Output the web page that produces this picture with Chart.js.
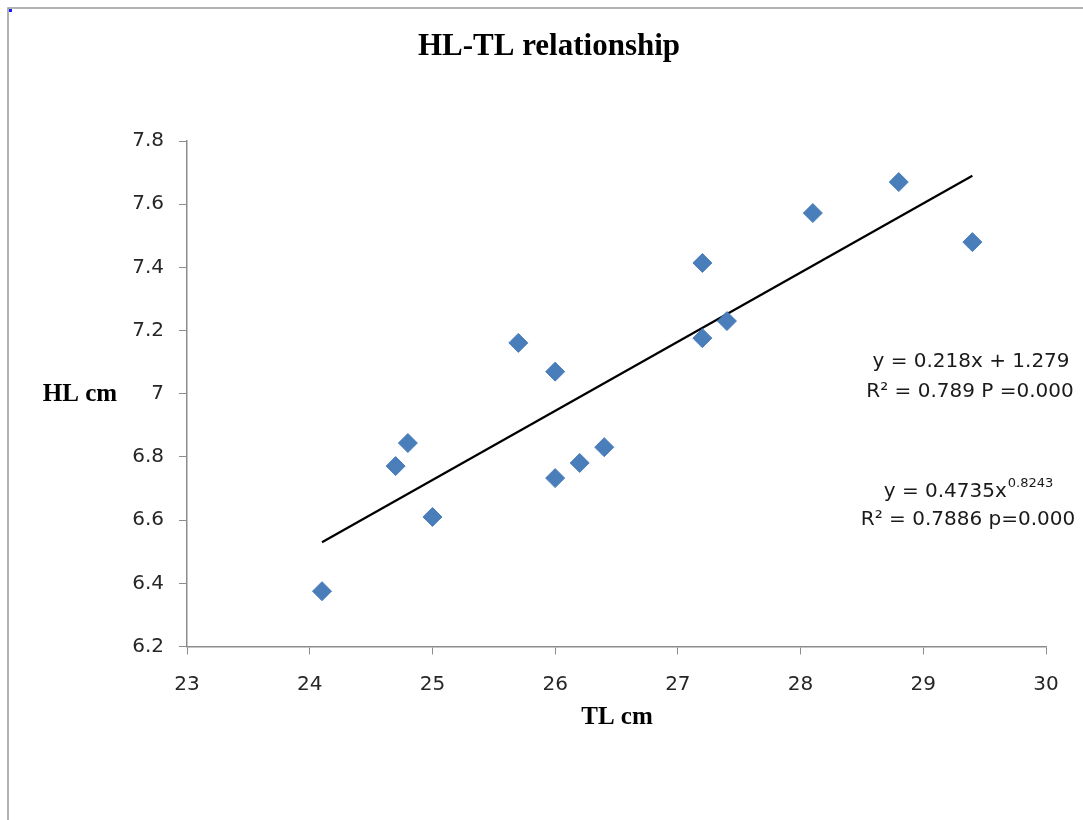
<!DOCTYPE html>
<html>
<head>
<meta charset="utf-8">
<title>HL-TL relationship</title>
<script src="https://cdn.jsdelivr.net/npm/chart.js@4"></script>
<style>
  html, body { margin: 0; padding: 0; background: #fff; }
  #wrap { width: 1083px; height: 820px; position: relative; }
</style>
</head>
<body>
<div id="wrap"><canvas id="hlChart" width="1083" height="820"></canvas></div>
<script>
// measured fish: total length vs head length (cm)
const tlValues = [24.1, 24.7, 24.8, 25.0, 25.7, 26.0, 26.0, 26.2, 26.4, 27.2, 27.2, 27.4, 28.1, 28.8, 29.4];
const hlValues = [6.375, 6.771, 6.844, 6.610, 7.161, 7.070, 6.733, 6.781, 6.831, 7.414, 7.176, 7.230, 7.572, 7.670, 7.480];

// trendline ends
const trendX = [24.1, 29.4];
const trendY = [6.53, 7.69];

const xTicks = [23, 24, 25, 26, 27, 28, 29, 30];
const yTicks = [6.2, 6.4, 6.6, 6.8, 7.0, 7.2, 7.4, 7.6, 7.8];

const points = tlValues.map((x, i) => ({ x: x, y: hlValues[i] }));
const trend = trendX.map((x, i) => ({ x: x, y: trendY[i] }));

const sans = "'DejaVu Sans', sans-serif";
const serif = "'Liberation Serif', 'Times New Roman', serif";

// frame, titles and equation text
const decor = {
  id: "decor",
  beforeDraw(chart) {
    const ctx = chart.ctx;
    ctx.save();
    ctx.fillStyle = "#fff";
    ctx.fillRect(0, 0, chart.width, chart.height);
    ctx.strokeStyle = "#9a9a9a";
    ctx.lineWidth = 1.5;
    ctx.beginPath();
    ctx.moveTo(8, chart.height);
    ctx.lineTo(8, 8);
    ctx.lineTo(chart.width, 8);
    ctx.stroke();
    ctx.fillStyle = "#1a1aff";
    ctx.fillRect(9, 9, 3, 3);
    ctx.restore();
  },
  afterDraw(chart) {
    const ctx = chart.ctx;
    ctx.save();
    ctx.fillStyle = "#000";
    ctx.textBaseline = "middle";
    ctx.textAlign = "center";
    ctx.font = "bold 31px " + serif;
    ctx.fillText("HL-TL relationship", 549, 47);
    ctx.font = "bold 25px " + serif;
    ctx.fillText("HL cm", 80, 395);
    ctx.fillText("TL cm", 617, 718);

    ctx.fillStyle = "#1a1a1a";
    ctx.font = "20px " + sans;
    ctx.fillText("y = 0.218x + 1.279", 971, 362);
    ctx.fillText("R\u00b2 = 0.789 P =0.000", 970, 392);
    ctx.fillText("R\u00b2 = 0.7886 p=0.000", 968, 520);

    // power equation with a raised exponent
    const base = "y = 0.4735x";
    const expo = "0.8243";
    ctx.font = "20px " + sans;
    const wb = ctx.measureText(base).width;
    ctx.font = "13px " + sans;
    const we = ctx.measureText(expo).width;
    const left = 968 - (wb + we) / 2;
    ctx.textAlign = "left";
    ctx.font = "20px " + sans;
    ctx.fillText(base, left, 492);
    ctx.font = "13px " + sans;
    ctx.fillText(expo, left + wb + 1, 484);
    ctx.restore();
  }
};

new Chart(document.getElementById("hlChart"), {
  type: "scatter",
  data: {
    datasets: [
      {
        label: "HL",
        data: points,
        pointStyle: "rectRot",
        pointRadius: 9.5,
        pointHoverRadius: 9.5,
        backgroundColor: "#4a7ebb",
        borderColor: "#4a7ebb",
        borderWidth: 1
      },
      {
        label: "trend",
        data: trend,
        showLine: true,
        borderColor: "#000",
        borderWidth: 2.2,
        pointRadius: 0,
        fill: false
      }
    ]
  },
  plugins: [decor],
  options: {
    responsive: false,
    animation: false,
    layout: { padding: { left: 0, top: 141, right: 37, bottom: 0 } },
    plugins: {
      legend: { display: false },
      tooltip: { enabled: false },
      title: { display: false }
    },
    scales: {
      x: {
        type: "linear",
        min: 23,
        max: 30,
        afterBuildTicks: (s) => { s.ticks = xTicks.map(v => ({ value: v })); },
        afterFit: (s) => { s.height = 820 - 646.5; },
        ticks: {
          autoSkip: false,
          padding: 18,
          color: "#262626",
          font: { family: sans, size: 20 },
          callback: (v) => String(v)
        },
        grid: { drawOnChartArea: false, drawTicks: true, tickLength: 8, color: "#8c8c8c" },
        border: { color: "#8c8c8c", width: 1.5 }
      },
      y: {
        type: "linear",
        min: 6.2,
        max: 7.8,
        afterBuildTicks: (s) => { s.ticks = yTicks.map(v => ({ value: v })); },
        afterFit: (s) => { s.width = 187; },
        ticks: {
          autoSkip: false,
          padding: 15,
          color: "#262626",
          font: { family: sans, size: 20 },
          callback: (v) => String(+v.toFixed(1))
        },
        grid: { drawOnChartArea: false, drawTicks: true, tickLength: 8, color: "#8c8c8c" },
        border: { color: "#8c8c8c", width: 1.5 }
      }
    }
  }
});
</script>
</body>
</html>
